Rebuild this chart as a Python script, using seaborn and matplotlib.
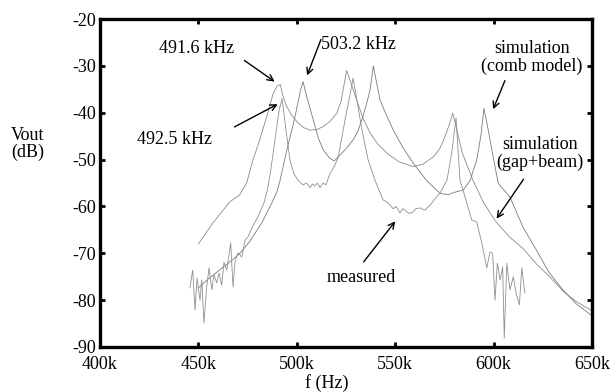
import pandas as pd
import numpy as np
import seaborn as sns
import matplotlib.pyplot as plt

sns.set_style('ticks')
plt.rcParams['font.family'] = ['Liberation Serif', 'DejaVu Serif']
plt.rcParams['axes.unicode_minus'] = False
plt.rcParams['axes.edgecolor'] = 'black'
plt.rcParams['xtick.color'] = 'black'
plt.rcParams['ytick.color'] = 'black'
plt.rcParams['text.color'] = 'black'

# measured response (kHz, dB)
meas_f = [445.7, 447.1, 448.3, 449.3, 450.8, 451.7, 452.8, 454.2, 455.4, 456.8,
          457.9, 459.3, 460.5, 461.8, 463.0, 464.4, 466.4, 467.6, 468.6, 470.1,
          472.0, 473.7, 475.2, 477.1, 478.8, 480.5, 482.0, 483.5, 485.0, 486.5,
          488.0, 489.5, 491.0, 492.5, 494.0, 496.5, 498.5, 500.6, 503.2, 505.0,
          506.7, 508.0, 509.2, 510.5, 511.8, 513.3, 514.8, 516.9, 519.0, 520.9,
          523.0, 524.5, 527.0, 528.6, 531.0, 533.1, 536.2, 539.7, 543.8, 545.5,
          547.4, 549.0, 550.5, 552.4, 553.8, 555.0, 557.0, 559.0, 560.5, 562.6,
          565.0, 567.7, 570.0, 572.8, 576.3, 578.9, 580.9, 582.9, 585.5, 588.9,
          591.4, 594.0, 596.5, 598.2, 599.5, 600.7, 601.9, 603.3, 604.6, 605.4,
          606.7, 608.3, 610.0, 611.4, 613.1, 614.3, 615.9]
meas_db = [-77.4, -73.6, -82.1, -75.3, -80.0, -75.7, -84.9, -77.2, -73.1, -77.8,
           -74.6, -76.3, -74.2, -76.8, -71.9, -73.6, -67.8, -77.2, -71.9, -69.9,
           -70.8, -67.2, -66.5, -64.6, -63.3, -62.0, -60.5, -59.0, -56.5, -53.0,
           -48.5, -44.0, -39.5, -37.0, -42.0, -50.1, -53.0, -54.4, -55.4, -55.0,
           -56.0, -55.2, -55.6, -55.0, -56.0, -55.0, -55.4, -52.9, -51.5, -49.7,
           -45.0, -41.5, -36.2, -32.6, -38.5, -43.7, -50.0, -54.4, -58.6, -59.0,
           -59.7, -60.5, -60.0, -61.4, -60.5, -60.8, -61.5, -61.2, -60.5, -60.3,
           -60.8, -59.7, -58.5, -57.1, -54.4, -48.0, -41.1, -54.4, -58.0, -62.9,
           -63.3, -67.8, -73.1, -69.7, -70.0, -80.0, -72.1, -75.7, -72.9, -88.1,
           -72.1, -77.8, -75.0, -78.5, -81.0, -73.1, -78.5]

# simulation (gap+beam)
gap_f = [450.0, 457.4, 466.0, 471.0, 474.5, 477.7, 481.0, 484.7, 488.0, 490.0,
         491.6, 493.0, 494.9, 497.5, 500.0, 503.5, 506.7, 510.0, 513.3, 517.0,
         520.3, 522.5, 524.0, 525.3, 527.0, 530.4, 533.5, 537.2, 541.0, 545.7,
         552.0, 559.2, 564.0, 569.4, 572.5, 575.3, 577.5, 579.2, 581.0, 584.0,
         589.5, 595.0, 600.9, 608.0, 615.0, 622.0, 628.0, 635.6, 642.0, 650.0]
gap_db = [-68.0, -63.5, -59.0, -57.5, -55.0, -50.1, -46.0, -40.8, -35.9, -34.3,
          -34.0, -36.5, -38.7, -40.6, -41.9, -43.2, -43.7, -43.6, -43.0, -41.8,
          -40.1, -37.5, -34.0, -31.0, -33.0, -37.3, -41.0, -44.3, -46.6, -48.6,
          -50.5, -51.5, -51.0, -49.4, -47.8, -45.1, -42.5, -40.1, -43.0, -48.5,
          -54.4, -59.3, -63.1, -66.5, -69.0, -72.4, -74.8, -78.2, -80.3, -82.3]

# simulation (comb model)
comb_f = [449.8, 455.0, 462.7, 467.0, 471.1, 476.0, 482.2, 487.0, 489.8, 491.5,
          494.9, 497.0, 499.1, 501.0, 502.0, 503.2, 505.0, 508.4, 511.0, 513.5,
          516.5, 519.0, 522.0, 525.0, 528.6, 531.0, 533.6, 535.5, 537.2, 538.9,
          540.5, 542.3, 545.5, 549.0, 554.0, 559.2, 566.0, 572.8, 577.0, 580.0,
          584.6, 588.0, 591.4, 593.5, 595.1, 596.5, 598.2, 600.0, 602.4, 608.3,
          615.0, 622.0, 628.0, 635.6, 642.0, 650.0]
comb_db = [-77.4, -75.5, -72.9, -71.5, -70.0, -67.5, -63.5, -59.5, -57.0, -54.4,
           -48.0, -44.5, -40.8, -37.0, -35.0, -33.4, -36.5, -41.6, -45.5, -48.0,
           -49.6, -50.3, -49.0, -47.7, -45.8, -44.0, -40.8, -38.0, -35.2, -30.0,
           -33.5, -37.3, -40.5, -43.7, -47.5, -50.8, -54.5, -57.2, -57.5, -57.0,
           -56.5, -54.5, -50.1, -45.0, -39.1, -42.0, -45.8, -50.0, -55.1, -58.0,
           -64.5, -69.5, -74.0, -78.0, -80.8, -83.3]

xticks = [400, 450, 500, 550, 600, 650]
xtick_labels = ['400k', '450k', '500k', '550k', '600k', '650k']
yticks = [-90, -80, -70, -60, -50, -40, -30, -20]

df_meas = pd.DataFrame({'f': meas_f, 'dB': meas_db})
df_gap = pd.DataFrame({'f': gap_f, 'dB': gap_db})
df_comb = pd.DataFrame({'f': comb_f, 'dB': comb_db})

fig = plt.figure(figsize=(6.14, 3.92), dpi=100)
ax = fig.add_axes([0.1629, 0.1148, 0.8013, 0.8367])

for d, c in [(df_gap, '#8a8a8a'), (df_comb, '#7a7a7a'), (df_meas, '#8f8f8f')]:
    sns.lineplot(data=d, x='f', y='dB', ax=ax, color=c, linewidth=0.6,
                 sort=False, estimator=None)

ax.set_xlim(400, 650)
ax.set_ylim(-90, -20)
ax.set_xticks(xticks)
ax.set_xticklabels(xtick_labels)
ax.set_yticks(yticks)
ax.tick_params(direction='in', length=3.5, width=2, labelsize=13,
               top=True, right=True)
ax.tick_params(axis='x', pad=6.5)
ax.tick_params(axis='y', pad=3)
for s in ax.spines.values():
    s.set_linewidth(2.4)
ax.set_xlabel('')
ax.set_ylabel('')

fs = 13
arr = dict(arrowstyle='->', color='black', lw=1.0, mutation_scale=11)
ax.annotate('', xy=(489.9, -33.7), xytext=(472.2, -28.5), arrowprops=arr)
ax.text(449.3, -26.4, '491.6 kHz', ha='center', va='center', fontsize=fs)
ax.annotate('', xy=(491.5, -37.9), xytext=(467.1, -43.3), arrowprops=arr)
ax.text(437.9, -45.8, '492.5 kHz', ha='center', va='center', fontsize=fs)
ax.annotate('', xy=(504.7, -32.6), xytext=(512.8, -23.8), arrowprops=arr)
ax.text(512.3, -25.5, '503.2 kHz', ha='left', va='center', fontsize=fs)
ax.annotate('', xy=(599.2, -39.8), xytext=(606.3, -32.6), arrowprops=arr)
ax.text(619.5, -28.3, 'simulation\n(comb model)', ha='center', va='center',
        fontsize=fs, linespacing=1.05)
ax.annotate('', xy=(600.7, -63.1), xytext=(616.0, -53.7), arrowprops=arr)
ax.text(623.6, -48.8, 'simulation\n(gap+beam)', ha='center', va='center',
        fontsize=fs, linespacing=1.05)
ax.annotate('', xy=(550.9, -62.7), xytext=(533.1, -72.3), arrowprops=arr)
ax.text(532.6, -75.1, 'measured', ha='center', va='center', fontsize=fs)

fig.text(28 / 614, 1 - 144 / 392, 'Vout\n(dB)', ha='center', va='center',
         fontsize=fs, linespacing=1.05)
fig.text(327 / 614, 1 - 383 / 392, 'f (Hz)', ha='center', va='center',
         fontsize=fs)

fig.savefig('out.png', dpi=100)
